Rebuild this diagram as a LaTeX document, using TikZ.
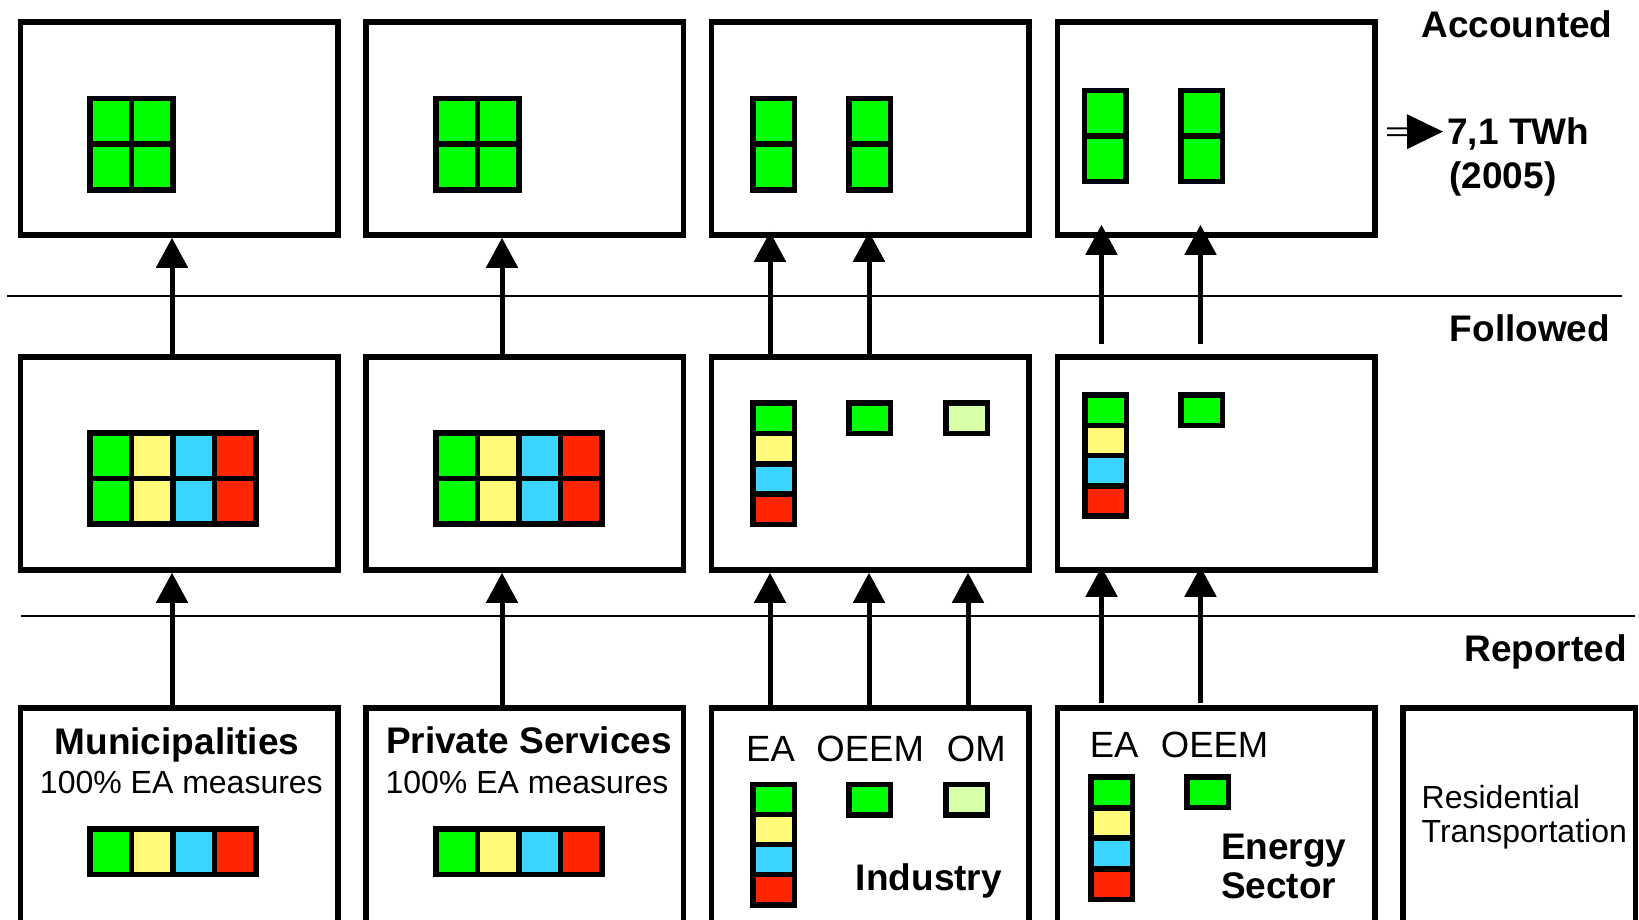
\documentclass[tikz,border=0pt]{standalone}
\usepackage{fontspec}
\setmainfont{Liberation Sans}
\usetikzlibrary{
  arrows.meta,
  positioning
}

\definecolor{eagreen}{RGB}{0,255,0}
\definecolor{eayellow}{RGB}{255,250,120}
\definecolor{eacyan}{RGB}{58,212,255}
\definecolor{eared}{RGB}{255,38,0}
\definecolor{omgreen}{RGB}{214,255,168}

\tikzset{
  panel/.style={draw, line width=2.75pt, minimum width=158.75pt, minimum height=106.5pt, inner sep=0pt},
  cell/.style={draw, line width=2.75pt, inner sep=0pt, outer sep=0pt, anchor=north west, minimum width=20.75pt, minimum height=22.75pt},
  slim/.style={cell, minimum height=15.2pt},
  arr/.style={line width=2.5pt, -{Triangle[length=15pt,width=15.5pt]}},
  sep/.style={line width=1pt},
  hdr/.style={inner sep=0pt, font=\bfseries\fontsize{18.5pt}{22pt}\selectfont},
  txt/.style={inner sep=0pt, font=\fontsize{16pt}{19pt}\selectfont},
  tag/.style={inner sep=0pt, font=\fontsize{18.25pt}{22pt}\selectfont}
}

\begin{document}
\begin{tikzpicture}[x=0.5pt, y=-0.5pt, node distance=11.35pt]
		\useasboundingbox (0,0) rectangle (1639,920);
		\clip (0,0) rectangle (1639,920);

		% boxes
		\node[panel] (acc1) at (179,128.5) {};
		\node[panel, right=of acc1] (acc2) {};
		\node[panel, right=of acc2] (acc3) {};
		\node[panel, right=of acc3] (acc4) {};
		\node[panel, below=58.25pt of acc1] (fol1) {};
		\node[panel, right=of fol1] (fol2) {};
		\node[panel, right=of fol2] (fol3) {};
		\node[panel, right=of fol3] (fol4) {};
		\node[panel, minimum height=115pt, below=66.25pt of fol1] (rep1) {};
		\node[panel, minimum height=115pt, right=of rep1] (rep2) {};
		\node[panel, minimum height=115pt, right=of rep2] (rep3) {};
		\node[panel, minimum height=115pt, right=of rep3] (rep4) {};
		\node[panel, minimum height=115pt, minimum width=116.25pt, right=of rep4] (rep5) {};

		\draw[sep] (7,296) -- (1622,296);
		\draw[sep] (21,615.7) -- (1635,615.7);

		% accounted
		\foreach \x [count=\k] in {90,435.8}
			\foreach \i in {0,1}
				\foreach \j in {0,1}
					\node[cell, fill=eagreen] (a\k-\i\j) at (\x+41.5*\i, 98.5+45.75*\j) {};
		\foreach \x/\y/\n in {753/98.5/a, 849.1/98.5/b, 1084.5/90.5/c, 1181.2/90.5/d}
			\foreach \j in {0,1}
				\node[cell, fill=eagreen] (col\n-\j) at (\x, \y+45.75*\j) {};

		% followed
		\foreach \x [count=\k] in {90,435.8}
			\foreach \c [count=\i from 0] in {eagreen,eayellow,eacyan,eared}
				\foreach \j in {0,1}
					\node[cell, fill=\c] (f\k-\i\j) at (\x+41.5*\i, 433+45.5*\j) {};
		\foreach \x/\y/\h/\n in {753/403/30.4/f3, 1085/395/30.25/f4, 753/784.5/30/r3, 1091/777/30.75/r4}
			\foreach \c [count=\j from 0] in {eagreen,eayellow,eacyan,eared}
				\node[slim, fill=\c] (\n-\j) at (\x, \y+\h*\j) {};
		\node[slim, fill=eagreen] (f3-oeem) at (849,403) {};
		\node[slim, fill=omgreen] (f3-om) at (946,403) {};
		\node[slim, fill=eagreen] (f4-oeem) at (1181,395) {};

		% reported
		\foreach \x [count=\k] in {90,435.8}
			\foreach \c [count=\i from 0] in {eagreen,eayellow,eacyan,eared}
				\node[cell, fill=\c] (r\k-\i) at (\x+41.5*\i, 829) {};
		\node[slim, fill=eagreen] (r3-oeem) at (849,784.5) {};
		\node[slim, fill=omgreen] (r3-om) at (946,784.5) {};
		\node[slim, fill=eagreen] (r4-oeem) at (1187,777) {};

		\node[hdr, anchor=base] (muni) at (177,754) {Municipalities};
		\node[txt, anchor=base] (munipct) at (181.4,793.3) {100\% EA measures};
		\node[hdr, anchor=base] (priv) at (529,753.3) {Private Services};
		\node[txt, anchor=base] (privpct) at (527,793.3) {100\% EA measures};
		\node[tag, anchor=base] (ea3) at (770.5,761.7) {EA};
		\node[tag, anchor=base] (oeem3) at (870.2,761.7) {OEEM};
		\node[tag, anchor=base] (om3) at (976.3,761.7) {OM};
		\node[tag, anchor=base] (ea4) at (1114.2,757.3) {EA};
		\node[tag, anchor=base] (oeem4) at (1214.6,757.3) {OEEM};
		\node[hdr, anchor=base west] (ind) at (855.5,890) {Industry};
		\node[hdr, anchor=base west] (energy) at (1220.7,859.3) {Energy};
		\node[hdr, anchor=base west] (sector) at (1220.7,898.7) {Sector};
		\node[txt, anchor=base west] (resid) at (1421.3,808.3) {Residential};
		\node[txt, anchor=base west] (transp) at (1421.3,842.7) {Transportation};

		% levels
		\node[hdr, anchor=base west] (accounted) at (1421,38) {Accounted};
		\node[hdr, anchor=base west] (followed) at (1449.4,341.5) {Followed};
		\node[hdr, anchor=base west] (reported) at (1464,661) {Reported};
		\node[hdr, anchor=base west, text depth=0pt] (twh) at (1447,145) {7,1 TWh};
		\node[hdr, anchor=base west] (year) at (1449,189) {(2005)};
		\coordinate (eqtail) at (1387,131.75);
		\draw[line width=1pt, double distance=2.35pt, -{Triangle[length=18pt,width=17.2pt]}, shorten >=2pt] (eqtail) -- (twh.west);

		% arrows
		\foreach \b/\d in {1/-3.5pt, 2/-11.35pt, 3/-50.2pt, 3/-0.7pt, 3/48.8pt}
			\draw[arr] ([xshift=\d]rep\b.north) -- ([xshift=\d]fol\b.south);
		\foreach \d in {-57.3pt, -7.8pt}
			\draw[arr, shorten <=1pt, shorten >=-3pt] ([xshift=\d]rep4.north) -- ([xshift=\d]fol4.south);
		\foreach \b/\d in {1/-3.5pt, 2/-11.35pt}
			\draw[arr] ([xshift=\d]fol\b.north) -- ([xshift=\d]acc\b.south);
		\foreach \d in {-50.2pt, -0.7pt}
			\draw[arr, shorten >=-3pt] ([xshift=\d]fol3.north) -- ([xshift=\d]acc3.south);
		\foreach \d in {-57.3pt, -7.8pt}
			\draw[arr, shorten <=5pt, shorten >=-6.5pt] ([xshift=\d]fol4.north) -- ([xshift=\d]acc4.south);
	\end{tikzpicture}
\end{document}
